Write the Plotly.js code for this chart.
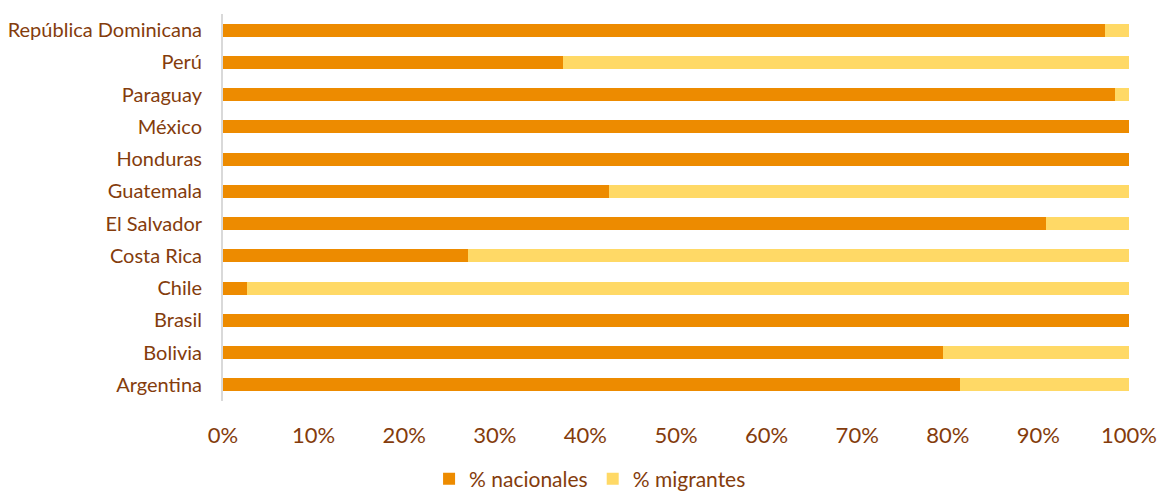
<!DOCTYPE html>
<html>
<head>
<meta charset="utf-8">
<script src="https://cdn.plot.ly/plotly-3.0.1.min.js"></script>
<style>html,body{margin:0;padding:0;background:#fff;}#chart{width:1157px;height:495px;}</style>
</head>
<body>
<div id="chart"></div>
<script>
const countries = ["República Dominicana","Perú","Paraguay","México","Honduras","Guatemala","El Salvador","Costa Rica","Chile","Brasil","Bolivia","Argentina"];
const nacionales = [97.4, 37.5, 98.5, 100, 100, 42.6, 90.8, 27.0, 2.6, 100, 79.5, 81.4];
const migrantes = [2.6, 62.5, 1.5, 0, 0, 57.4, 9.2, 73.0, 97.4, 0, 20.5, 18.6];
const tickVals = [0,10,20,30,40,50,60,70,80,90,100];
const tickText = ["0%","10%","20%","30%","40%","50%","60%","70%","80%","90%","100%"];

const textColor = "#843C0C";
const fontFam = "Lato, 'Open Sans', sans-serif";

const data = [
  {type:"bar", orientation:"h", name:"% nacionales", y:countries, x:nacionales,
   marker:{color:"#ED8B00"}},
  {type:"bar", orientation:"h", name:"% migrantes", y:countries, x:migrantes,
   marker:{color:"#FFD966"}}
];
const layout = {
  width:1157, height:495,
  barmode:"stack", bargap:0.6,
  margin:{l:223, r:28, t:14, b:94},
  paper_bgcolor:"#fff", plot_bgcolor:"#fff",
  font:{family:fontFam, color:textColor, size:18},
  xaxis:{range:[0,100], tickvals:tickVals, ticktext:tickText, showgrid:false, zeroline:false,
         showline:false, ticks:"", ticklabelstandoff:19, tickfont:{size:22, color:textColor}, fixedrange:true},
  yaxis:{autorange:"reversed", type:"category", categoryorder:"array", categoryarray:countries,
         showline:true, linecolor:"#D9D9D9", linewidth:2, ticks:"", ticklabelstandoff:15,
         tickfont:{size:20, color:textColor}, showgrid:false, fixedrange:true},
  showlegend:true,
  legend:{orientation:"h", xref:"container", yref:"container", x:0.51, y:0.032, xanchor:"center", yanchor:"middle",
          font:{size:21, color:textColor}, itemwidth:30, traceorder:"normal"}
};
Plotly.newPlot("chart", data, layout, {displayModeBar:false, staticPlot:true});
</script>
</body>
</html>
